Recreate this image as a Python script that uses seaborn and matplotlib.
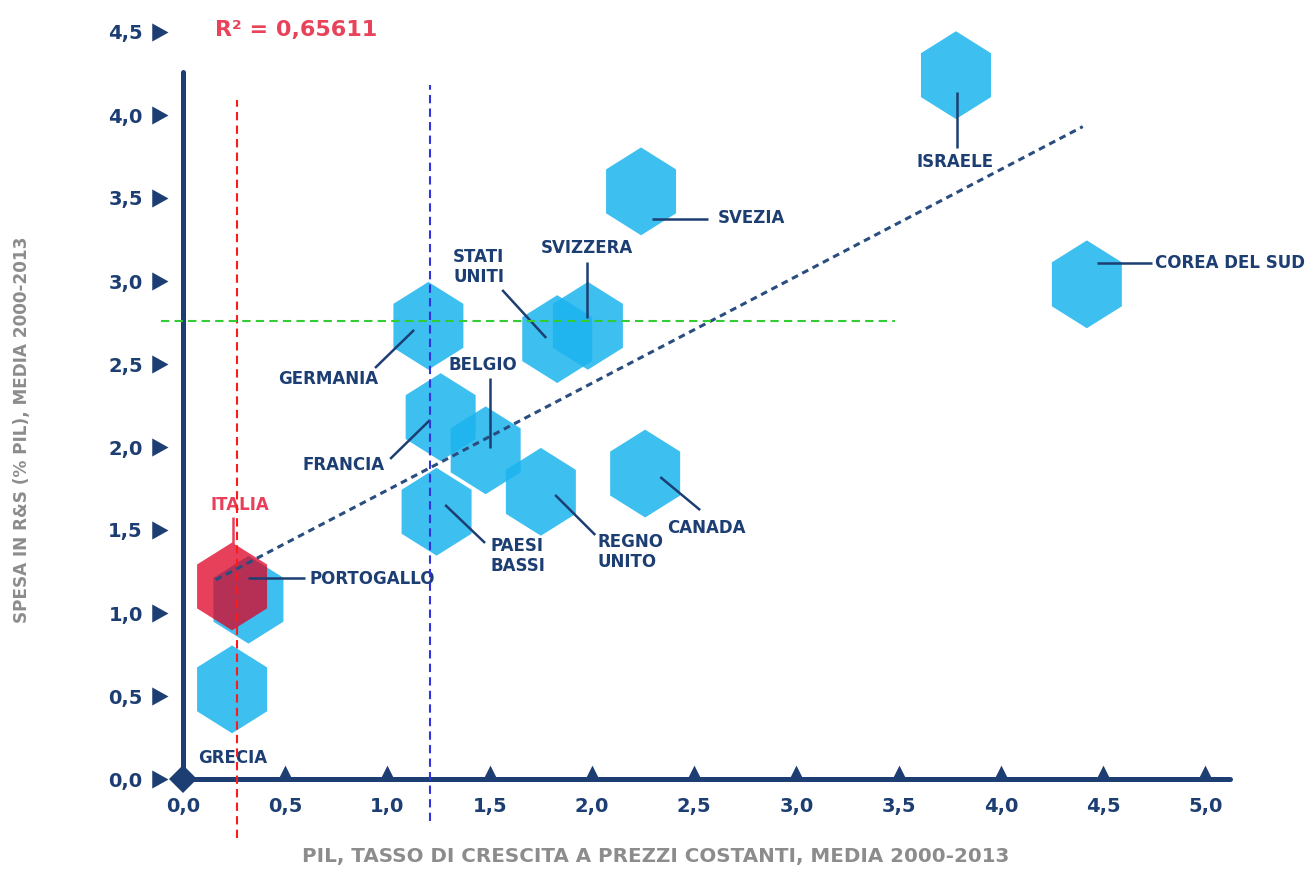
import numpy as np
import pandas as pd
import matplotlib
matplotlib.use("Agg")
import matplotlib.pyplot as plt
from matplotlib.markers import MarkerStyle
from matplotlib.path import Path
import seaborn as sns

# data
countries = ["ISRAELE", "SVEZIA", "COREA DEL SUD", "STATI UNITI", "SVIZZERA",
             "GERMANIA", "FRANCIA", "BELGIO", "PAESI BASSI", "REGNO UNITO",
             "CANADA", "PORTOGALLO", "GRECIA", "ITALIA"]
pil_growth = [3.78, 2.24, 4.42, 1.83, 1.98, 1.20, 1.26, 1.48, 1.24, 1.75,
              2.26, 0.32, 0.24, 0.24]
rs_spend = [4.24, 3.54, 2.98, 2.65, 2.73, 2.73, 2.18, 1.98, 1.61, 1.73,
            1.84, 1.08, 0.54, 1.16]
trend_x = [0.16, 4.40]
trend_y = [1.20, 3.93]
r2_text = "R² = 0,65611"
ref_red_x = 0.264
ref_blue_x = 1.21
ref_green_y = 2.76

xticks = [0.0, 0.5, 1.0, 1.5, 2.0, 2.5, 3.0, 3.5, 4.0, 4.5, 5.0]
yticks = [0.0, 0.5, 1.0, 1.5, 2.0, 2.5, 3.0, 3.5, 4.0, 4.5]
xtick_labels = [f"{v:.1f}".replace(".", ",") for v in xticks]
ytick_labels = [f"{v:.1f}".replace(".", ",") for v in yticks]

df = pd.DataFrame({"paese": countries, "pil": pil_growth, "rs": rs_spend})

# label placement: text x, text y, ha, leader line (x0, y0, x1, y1)
label_layout = {
    "ISRAELE": (3.777, 3.717, "center", (3.787, 4.139, 3.787, 3.801)),
    "SVEZIA": (2.613, 3.380, "left", (2.295, 3.373, 2.569, 3.373)),
    "COREA DEL SUD": (4.755, 3.108, "left", (4.472, 3.108, 4.741, 3.108)),
    "SVIZZERA": (1.977, 3.199, "center", (1.977, 3.114, 1.977, 2.777)),
    "STATI\nUNITI": (1.321, 3.084, "left", (1.561, 2.946, 1.776, 2.657)),
    "GERMANIA": (0.709, 2.410, "center", (0.939, 2.476, 1.130, 2.705)),
    "BELGIO": (1.468, 2.494, "center", (1.502, 2.416, 1.502, 1.994)),
    "FRANCIA": (0.783, 1.892, "center", (1.013, 1.928, 1.208, 2.163)),
    "PAESI\nBASSI": (1.502, 1.343, "left", (1.282, 1.651, 1.477, 1.422)),
    "REGNO\nUNITO": (2.025, 1.367, "left", (1.820, 1.711, 2.016, 1.470)),
    "CANADA": (2.559, 1.512, "center", (2.334, 1.819, 2.529, 1.620)),
    "PORTOGALLO": (0.621, 1.205, "left", (0.318, 1.211, 0.597, 1.211)),
    "GRECIA": (0.245, 0.127, "center", None),
    "ITALIA": (0.279, 1.651, "center", (0.245, 1.578, 0.245, 1.410)),
}

navy = "#1c3e72"
blue = "#1bb4ee"
red = "#e00023"
grey = "#8c8c8c"

sns.set_style("white")
plt.rcParams["font.family"] = ["DejaVu Sans"]

fig = plt.figure(figsize=(13.11, 8.71), dpi=100)
ax = fig.add_axes([183 / 1311, 92 / 871, 1047 / 1311, 747 / 871])

# stretched hexagon marker (pointy top)
theta = np.deg2rad(90 + 60 * np.arange(6))
verts = np.column_stack([0.92 * np.cos(theta), np.sin(theta)])
hex_path = Path(np.vstack([verts, verts[:1]]),
                [Path.MOVETO] + [Path.LINETO] * 5 + [Path.CLOSEPOLY])
hex_marker = MarkerStyle(hex_path)

others = df[df["paese"] != "ITALIA"]
italy = df[df["paese"] == "ITALIA"]
sns.scatterplot(data=others, x="pil", y="rs", marker=hex_marker, s=4000,
                color=blue, alpha=0.85, linewidth=0, edgecolor="none",
                legend=False, ax=ax, zorder=2, clip_on=False)
sns.scatterplot(data=italy, x="pil", y="rs", marker=hex_marker, s=4000,
                color=red, alpha=0.75, linewidth=0, edgecolor="none",
                legend=False, ax=ax, zorder=3, clip_on=False)

# trend line
ax.plot(trend_x, trend_y, color="#2a4d80", lw=2.2, ls=(0, (2.2, 1.6)), zorder=4)

# labels and leader lines
for name, (tx, ty, ha, line) in label_layout.items():
    c = "#e8405a" if name == "ITALIA" else navy
    ax.text(tx, ty, name, ha=ha, va="center", color=c, fontsize=12,
            fontweight="bold", linespacing=1.15, zorder=6)
    if line is not None:
        ax.plot([line[0], line[2]], [line[1], line[3]], color=c, lw=1.8,
                zorder=5, solid_capstyle="butt")

ax.text(0.157, 4.51, r2_text, color="#e8435a", fontsize=16, fontweight="bold",
        ha="left", va="center")

# axes styling
ax.set_xlim(0, 5.12)
ax.set_ylim(0, 4.5)
for side in ["top", "right"]:
    ax.spines[side].set_visible(False)
for side in ["left", "bottom"]:
    ax.spines[side].set_color(navy)
    ax.spines[side].set_linewidth(3.6)
    ax.spines[side].set_capstyle("round")
ax.spines["left"].set_bounds(0, 4.26)

ax.set_xticks(xticks)
ax.set_xticklabels(xtick_labels)
ax.set_yticks(yticks)
ax.set_yticklabels(ytick_labels)
ax.tick_params(axis="both", length=0, labelcolor=navy, labelsize=14)
ax.tick_params(axis="x", pad=13)
ax.tick_params(axis="y", pad=29)
for lab in ax.get_xticklabels() + ax.get_yticklabels():
    lab.set_fontweight("bold")

# custom tick markers
up_tri = MarkerStyle(Path([(-0.5, 0), (0.5, 0), (0, 1), (-0.5, 0)],
                          [Path.MOVETO, Path.LINETO, Path.LINETO, Path.CLOSEPOLY]))
right_tri = MarkerStyle(Path([(-1, 0.29), (-1, -0.29), (-0.48, 0), (-1, 0.29)],
                             [Path.MOVETO, Path.LINETO, Path.LINETO, Path.CLOSEPOLY]))
ax.plot(xticks[1:], np.zeros(len(xticks) - 1), ls="none", marker=up_tri,
        ms=20, color=navy, mew=0, clip_on=False, zorder=7)
ax.plot(np.zeros(len(yticks)), yticks, ls="none", marker=right_tri,
        ms=45, color=navy, mew=0, clip_on=False, zorder=7)
ax.plot([0], [0], ls="none", marker="D", ms=14, color=navy, mew=0,
        clip_on=False, zorder=8)

ax.set_xlabel("PIL, TASSO DI CRESCITA A PREZZI COSTANTI, MEDIA 2000-2013",
              color=grey, fontsize=14.3, fontweight="bold", va="center")
ax.xaxis.set_label_coords(0.451, -0.104)
ax.set_ylabel("SPESA IN R&S (% PIL), MEDIA 2000-2013", color=grey,
              fontsize=12.2, fontweight="bold", va="center")
ax.yaxis.set_label_coords(-0.154, 0.467)

# dashed reference lines
ax.plot([ref_red_x, ref_red_x], [-0.355, 4.09], color="#ff1a1a", lw=1.5,
        ls=(0, (4, 2.5)), clip_on=False, zorder=9)
ax.plot([ref_blue_x, ref_blue_x], [-0.25, 4.18], color="#3333dd", lw=1.5,
        ls=(0, (4, 2.5)), clip_on=False, zorder=9)
ax.plot([-0.11, 3.48], [ref_green_y, ref_green_y], color="#33cc33", lw=1.5,
        ls=(0, (4, 2.5)), clip_on=False, zorder=9)

fig.savefig("out.png", dpi=100)
